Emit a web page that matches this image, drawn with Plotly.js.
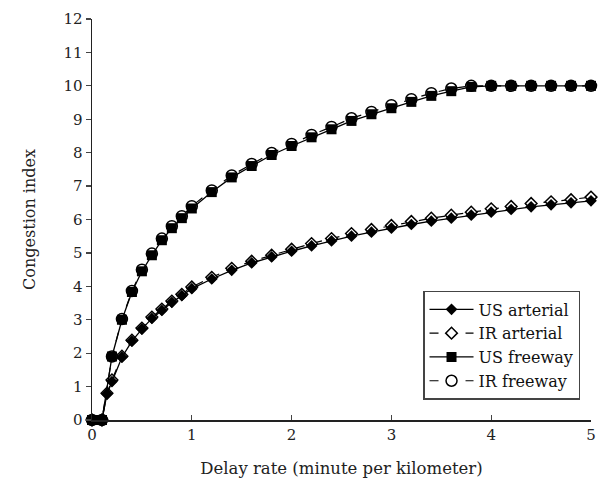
<!DOCTYPE html>
<html>
<head>
<meta charset="utf-8">
<script src="https://cdn.plot.ly/plotly-3.0.1.min.js"></script>
<style>html,body{margin:0;padding:0;background:#fff;}#chart{width:599px;height:489px;}</style>
</head>
<body>
<div id="chart"></div>
<script>
// Delay rate (minute per kilometer)
const xFreeway = [0, 0.1, 0.2, 0.3, 0.4, 0.5, 0.6, 0.7, 0.8, 0.9, 1.0, 1.2, 1.4, 1.6, 1.8, 2.0, 2.2, 2.4, 2.6, 2.8, 3.0, 3.2, 3.4, 3.6, 3.8, 4.0, 4.2, 4.4, 4.6, 4.8, 5.0];
const xArterial = [0, 0.1, 0.15, 0.2, 0.3, 0.4, 0.5, 0.6, 0.7, 0.8, 0.9, 1.0, 1.2, 1.4, 1.6, 1.8, 2.0, 2.2, 2.4, 2.6, 2.8, 3.0, 3.2, 3.4, 3.6, 3.8, 4.0, 4.2, 4.4, 4.6, 4.8, 5.0];
// Congestion index
const usArterial = [0, 0, 0.78, 1.15, 1.88, 2.36, 2.72, 3.04, 3.28, 3.52, 3.72, 3.93, 4.22, 4.48, 4.70, 4.88, 5.05, 5.21, 5.36, 5.50, 5.62, 5.74, 5.85, 5.95, 6.04, 6.13, 6.22, 6.30, 6.38, 6.44, 6.50, 6.56];
const irArterial = [0, 0, 0.80, 1.20, 1.91, 2.39, 2.75, 3.08, 3.32, 3.56, 3.76, 3.98, 4.27, 4.54, 4.75, 4.93, 5.11, 5.28, 5.43, 5.58, 5.70, 5.82, 5.94, 6.04, 6.13, 6.22, 6.32, 6.39, 6.48, 6.53, 6.59, 6.67];
const usFreeway = [0, 0, 1.90, 3.00, 3.83, 4.45, 4.93, 5.38, 5.74, 6.04, 6.33, 6.82, 7.26, 7.60, 7.93, 8.20, 8.46, 8.70, 8.95, 9.15, 9.33, 9.52, 9.70, 9.84, 9.97, 10, 10, 10, 10, 10, 10];
const irFreeway = [0, 0, 1.90, 3.02, 3.86, 4.50, 4.98, 5.43, 5.80, 6.10, 6.40, 6.87, 7.32, 7.66, 7.99, 8.26, 8.53, 8.77, 9.03, 9.22, 9.42, 9.60, 9.78, 9.92, 10, 10, 10, 10, 10, 10, 10];
const seriesNames = ['US arterial', 'IR arterial', 'US freeway', 'IR freeway'];
const yTicks = [0,1,2,3,4,5,6,7,8,9,10,11,12];
const xTicks = [0,1,2,3,4,5];

const FONT = 'DejaVu Serif, Liberation Serif, serif';
const traces = [
  {x: xArterial, y: irArterial, name: seriesNames[1], legendrank: 2, mode: 'lines+markers',
   line: {color: '#000', width: 1.2, dash: 'dash'},
   marker: {symbol: 'diamond', size: 9, color: '#fff', line: {color: '#000', width: 1.5}}},
  {x: xFreeway, y: irFreeway, name: seriesNames[3], legendrank: 4, mode: 'lines+markers',
   line: {color: '#000', width: 1.2, dash: 'dash'},
   marker: {symbol: 'circle', size: 11, color: '#fff', line: {color: '#000', width: 1.5}}},
  {x: xArterial, y: usArterial, name: seriesNames[0], legendrank: 1, mode: 'lines+markers',
   line: {color: '#000', width: 1.3},
   marker: {symbol: 'diamond', size: 9, color: '#000'}},
  {x: xFreeway, y: usFreeway, name: seriesNames[2], legendrank: 3, mode: 'lines+markers',
   line: {color: '#000', width: 1.3},
   marker: {symbol: 'square', size: 10, color: '#000'}}
].map(t => Object.assign(t, {type: 'scatter', cliponaxis: false}));

const layout = {
  width: 599, height: 489,
  margin: {l: 92, r: 8, t: 19, b: 69},
  paper_bgcolor: '#fff', plot_bgcolor: '#fff',
  font: {family: FONT, size: 15, color: '#222'},
  showlegend: true,
  legend: {x: 0.978, y: 0.05, xanchor: 'right', yanchor: 'bottom',
           bordercolor: '#444', borderwidth: 1.5, bgcolor: '#fff', itemwidth: 44,
           font: {family: FONT, size: 16, color: '#111'}, traceorder: 'normal'},
  xaxis: {range: [0, 5], tickvals: xTicks, ticks: 'inside', ticklen: 5, tickwidth: 1.2,
          showline: true, linecolor: '#222', linewidth: 1.5, showgrid: false, zeroline: false,
          tickfont: {family: FONT, size: 15},
          title: {text: 'Delay rate (minute per kilometer)', font: {family: FONT, size: 16.5}, standoff: 20}},
  yaxis: {range: [0, 12], tickvals: yTicks, ticks: 'outside', ticklen: 5, tickwidth: 1.2,
          showline: true, linecolor: '#222', linewidth: 1.5, showgrid: false, zeroline: false,
          tickfont: {family: FONT, size: 15},
          title: {text: 'Congestion index', font: {family: FONT, size: 16}, standoff: 24}}
};
Plotly.newPlot('chart', traces, layout, {displayModeBar: false, staticPlot: true});
</script>
</body>
</html>
